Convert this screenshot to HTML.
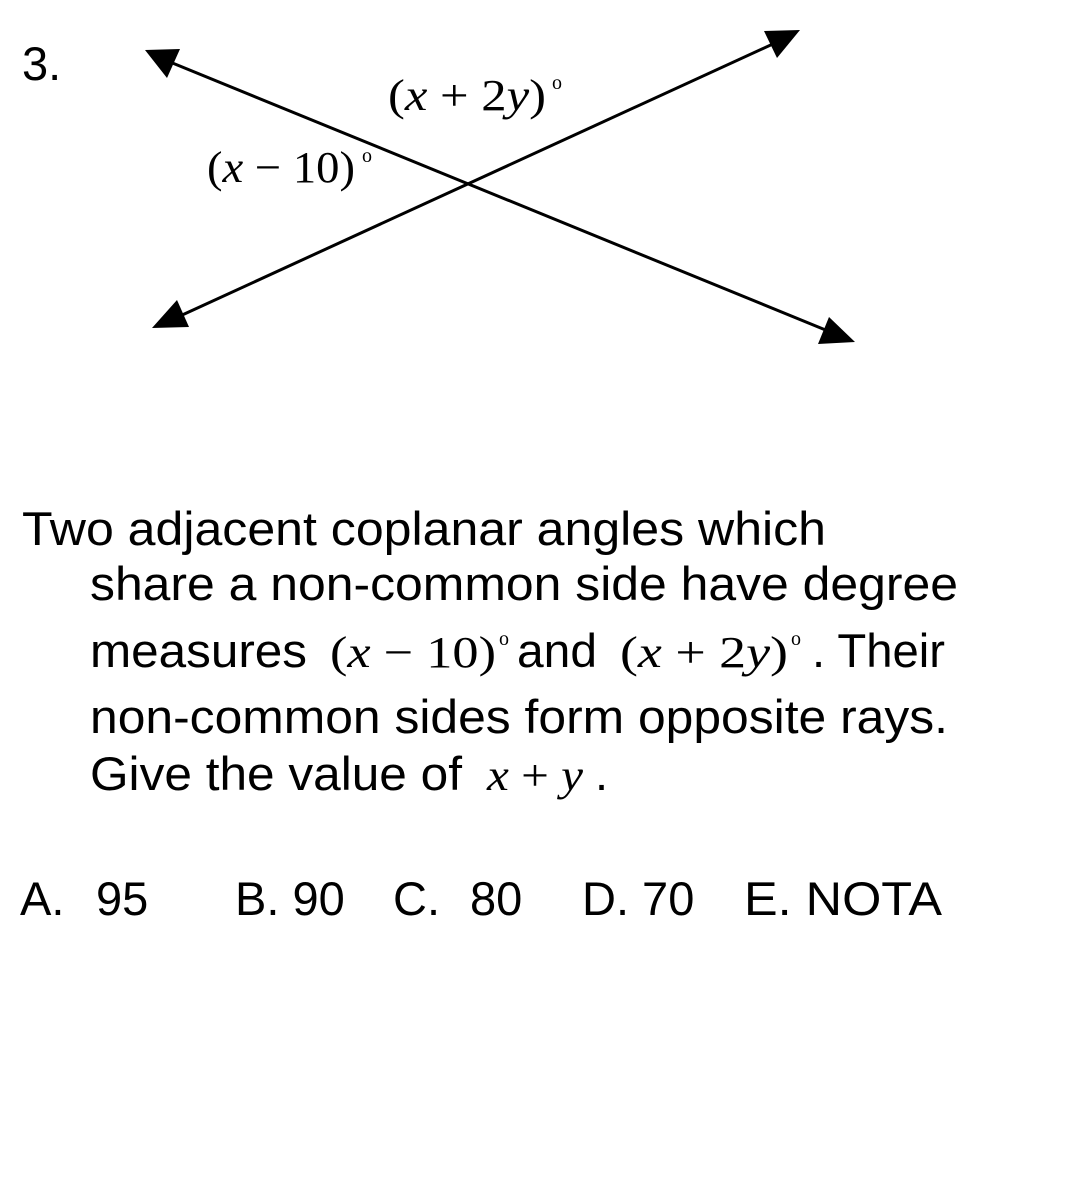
<!DOCTYPE html>
<html><head><meta charset="utf-8"><style>
html,body{margin:0;padding:0;background:#fff;}
svg{display:block;}
.s{font-family:"Liberation Sans",Arial,sans-serif;font-size:47px;fill:#000;}
.m{font-family:"Liberation Serif","Times New Roman",serif;font-size:44px;fill:#000;}
.i{font-style:italic;}
.deg{font-family:"Liberation Serif","Times New Roman",serif;font-size:20px;fill:#000;}
</style></head><body>
<svg width="1070" height="1192" viewBox="0 0 1070 1192">
<text class="s" x="22" y="80">3.</text>
<g stroke="#000" stroke-width="3">
<line x1="170" y1="62" x2="828" y2="331"/>
<line x1="775" y1="43" x2="180" y2="316"/>
</g>
<polygon points="145,50 180,49 167,78" fill="#000"/>
<polygon points="855,342 818,344 829,317" fill="#000"/>
<polygon points="800,30 764,31 777,58" fill="#000"/>
<polygon points="152,328 189,327 177,300" fill="#000"/>
<text class="m" x="388" y="110" font-size="48" textLength="158" lengthAdjust="spacingAndGlyphs">(<tspan class="i">x</tspan> + 2<tspan class="i">y</tspan>)</text>
<text class="deg" x="552" y="89" font-size="34">o</text>
<text class="m" x="207" y="182" font-size="48" textLength="148" lengthAdjust="spacingAndGlyphs">(<tspan class="i">x</tspan> − 10)</text>
<text class="deg" x="362" y="162" font-size="34">o</text>

<g>
<text class="s" x="22" y="545" textLength="804" lengthAdjust="spacingAndGlyphs">Two adjacent coplanar angles which</text>
<text class="s" x="90" y="600" textLength="868" lengthAdjust="spacingAndGlyphs">share a non-common side have degree</text>
<text class="s" x="90" y="667" textLength="217" lengthAdjust="spacingAndGlyphs">measures</text>
<text class="m" x="330" y="667" textLength="166" lengthAdjust="spacingAndGlyphs">(<tspan class="i">x</tspan> − 10)</text>
<text class="deg" x="499" y="645">o</text>
<text class="s" x="517" y="667" textLength="80" lengthAdjust="spacingAndGlyphs">and</text>
<text class="m" x="620" y="667" textLength="168" lengthAdjust="spacingAndGlyphs">(<tspan class="i">x</tspan> + 2<tspan class="i">y</tspan>)</text>
<text class="deg" x="791" y="645">o</text>
<text class="s" x="812" y="667" textLength="133" lengthAdjust="spacingAndGlyphs">. Their</text>
<text class="s" x="90" y="733" textLength="858" lengthAdjust="spacingAndGlyphs">non-common sides form opposite rays.</text>
<text class="s" x="90" y="790" textLength="372" lengthAdjust="spacingAndGlyphs">Give the value of</text>
<text class="m i" x="487" y="790" textLength="96" lengthAdjust="spacingAndGlyphs">x <tspan font-style="normal">+</tspan> y</text>
<text class="s" x="595" y="790">.</text>
</g>
<g>
<g><text class="s" x="20" y="915">A.</text><text class="s" x="96" y="915">95</text></g>
<text class="s" x="235" y="915">B. 90</text>
<g><text class="s" x="393" y="915">C.</text><text class="s" x="470" y="915">80</text></g>
<text class="s" x="582" y="915">D. 70</text>
<text class="s" x="744" y="915" textLength="198" lengthAdjust="spacingAndGlyphs">E. NOTA</text>
</g>
</svg>
</body></html>
